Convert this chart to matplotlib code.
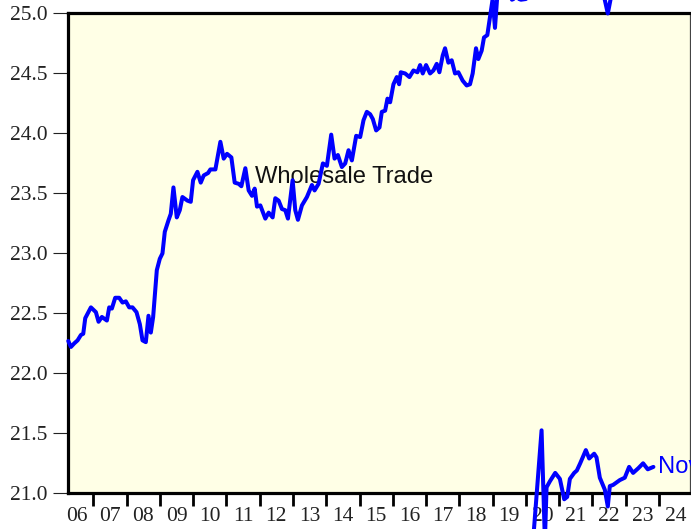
import matplotlib
matplotlib.use("Agg")
import matplotlib.pyplot as plt

# upper series (decimal years, values) - runs off the top after 2019
t_main = [2006.25, 2006.33, 2006.43, 2006.53, 2006.63, 2006.70, 2006.76, 2006.93,
          2007.08, 2007.16, 2007.26, 2007.41, 2007.48, 2007.56, 2007.66, 2007.78, 2007.88, 2007.98,
          2008.08, 2008.18, 2008.30, 2008.40, 2008.48, 2008.58, 2008.66, 2008.73, 2008.80, 2008.91,
          2009.00, 2009.08, 2009.15, 2009.26, 2009.33, 2009.41, 2009.51, 2009.60, 2009.68, 2009.83, 2009.93,
          2010.00, 2010.13, 2010.23, 2010.32, 2010.45, 2010.52, 2010.67, 2010.82, 2010.92,
          2011.02, 2011.15, 2011.25, 2011.37, 2011.45, 2011.57, 2011.67, 2011.77, 2011.85, 2011.92,
          2012.02, 2012.17, 2012.27, 2012.39, 2012.47, 2012.57, 2012.67, 2012.77, 2012.85, 2012.99,
          2013.07, 2013.15, 2013.27, 2013.42, 2013.57, 2013.65, 2013.77, 2013.90,
          2014.02, 2014.15, 2014.25, 2014.35, 2014.47, 2014.57, 2014.67, 2014.77, 2014.90,
          2015.02, 2015.12, 2015.22, 2015.32, 2015.40, 2015.50, 2015.60, 2015.67, 2015.77, 2015.84, 2015.92,
          2016.02, 2016.12, 2016.19, 2016.24, 2016.37, 2016.50, 2016.62, 2016.74, 2016.82, 2016.90,
          2017.00, 2017.12, 2017.22, 2017.32, 2017.40, 2017.50, 2017.57, 2017.67, 2017.77, 2017.87, 2017.97,
          2018.10, 2018.22, 2018.32, 2018.40, 2018.50, 2018.57, 2018.67, 2018.74, 2018.84, 2018.92,
          2019.00, 2019.07, 2019.14, 2019.35, 2019.58, 2019.70, 2019.85, 2020.00, 2020.30, 2020.60,
          2021.00, 2021.50, 2022.00, 2022.30, 2022.46, 2022.60, 2023.00, 2023.50, 2023.83]
v_main = [22.27, 22.22, 22.25, 22.275, 22.32, 22.33, 22.46, 22.55,
          22.51, 22.43, 22.47, 22.44, 22.55, 22.54, 22.63, 22.63, 22.59, 22.60,
          22.55, 22.55, 22.51, 22.41, 22.275, 22.26, 22.48, 22.34, 22.47, 22.86,
          22.955, 23.00, 23.18, 23.275, 23.33, 23.55, 23.30, 23.36, 23.47, 23.44, 23.43,
          23.61, 23.68, 23.59, 23.65, 23.67, 23.70, 23.70, 23.93, 23.79,
          23.83, 23.80, 23.59, 23.58, 23.56, 23.71, 23.525, 23.48, 23.54, 23.39,
          23.40, 23.29, 23.34, 23.30, 23.46, 23.44, 23.37, 23.36, 23.29, 23.61,
          23.36, 23.28, 23.40, 23.47, 23.57, 23.525, 23.58, 23.75,
          23.73, 23.99, 23.79, 23.82, 23.72, 23.75, 23.86, 23.775, 23.98,
          23.97, 24.11, 24.18, 24.16, 24.12, 24.025, 24.05, 24.18, 24.19, 24.29, 24.26,
          24.41, 24.47, 24.41, 24.51, 24.50, 24.47, 24.525, 24.51, 24.57, 24.50,
          24.57, 24.50, 24.525, 24.58, 24.51, 24.65, 24.71, 24.59, 24.61, 24.50, 24.51,
          24.44, 24.40, 24.41, 24.50, 24.71, 24.62, 24.69, 24.80, 24.82, 24.97,
          25.12, 24.88, 25.15, 25.30, 25.115, 25.13, 25.115, 25.12, 25.40, 25.60,
          25.45, 25.50, 25.40, 25.20, 25.00, 25.20, 25.35, 25.40, 25.45]

# lower series from 2020 on
t_low = [2020.20, 2020.47, 2020.57, 2020.62, 2020.72, 2020.88, 2021.02, 2021.15, 2021.24, 2021.32,
         2021.45, 2021.53, 2021.63, 2021.80, 2021.90, 2022.05, 2022.12, 2022.22, 2022.37, 2022.46,
         2022.52, 2022.62, 2022.82, 2022.97, 2023.10, 2023.22, 2023.38, 2023.52, 2023.66, 2023.83]
v_low = [20.55, 21.525, 20.60, 21.05, 21.10, 21.17, 21.12, 20.95, 20.97, 21.12,
         21.17, 21.19, 21.25, 21.36, 21.29, 21.33, 21.30, 21.13, 21.03, 20.89,
         21.06, 21.07, 21.11, 21.13, 21.22, 21.17, 21.21, 21.25, 21.20, 21.22]

year_labels = ['06', '07', '08', '09', '10', '11', '12', '13', '14', '15',
               '16', '17', '18', '19', '20', '21', '22', '23', '24']
y_ticks = [21.0, 21.5, 22.0, 22.5, 23.0, 23.5, 24.0, 24.5, 25.0]

plt.rcParams['font.family'] = ['Liberation Serif', 'DejaVu Serif']

fig = plt.figure(figsize=(6.91, 5.29), dpi=100)
ax = fig.add_axes([0.0988, 0.0675, 0.8993, 0.907])
ax.set_facecolor('#ffffe6')

ax.plot(t_main, v_main, color='#0000ff', lw=2.9, clip_on=False, zorder=5,
        solid_joinstyle='round', solid_capstyle='round')
ax.plot(t_low, v_low, color='#0000ff', lw=2.9, clip_on=False, zorder=5,
        solid_joinstyle='round', solid_capstyle='round')

ax.text(2011.87, 23.585, 'Wholesale Trade', family='Liberation Sans', fontsize=17.1,
        color='#111111', va='baseline', ha='left', zorder=4)
# "Nov" runs past the right edge in the reference as well
ax.text(t_low[-1] + 0.15, 21.168, 'Nov', family='Liberation Sans', fontsize=17.1,
        color='#0000ff', va='baseline', ha='left', clip_on=False)

ax.set_xlim(2006.25, 2024.92)
ax.set_ylim(21.0, 25.0)

ax.set_yticks(y_ticks)
ax.set_yticklabels(['%.1f' % v for v in y_ticks])
ax.tick_params(axis='y', direction='out', length=11, width=0.8, pad=4,
               labelsize=15.5, color='#222222', labelcolor='#222222')

ax.set_xticks(list(range(2007, 2025)))
ax.set_xticklabels([])
ax.tick_params(axis='x', which='major', direction='out', length=9.5, width=2.0, color='black')
ax.set_xticks([2006.5 + i for i in range(len(year_labels))], minor=True)
ax.set_xticklabels(year_labels, minor=True)
ax.tick_params(axis='x', which='minor', length=0, pad=10, labelsize=15.5, labelcolor='#222222')

for s in ['left', 'top', 'bottom']:
    ax.spines[s].set_linewidth(2.3)
    ax.spines[s].set_color('black')
ax.spines['right'].set_linewidth(0.9)
ax.spines['right'].set_color('#444444')

fig.savefig('out.png', dpi=100)
